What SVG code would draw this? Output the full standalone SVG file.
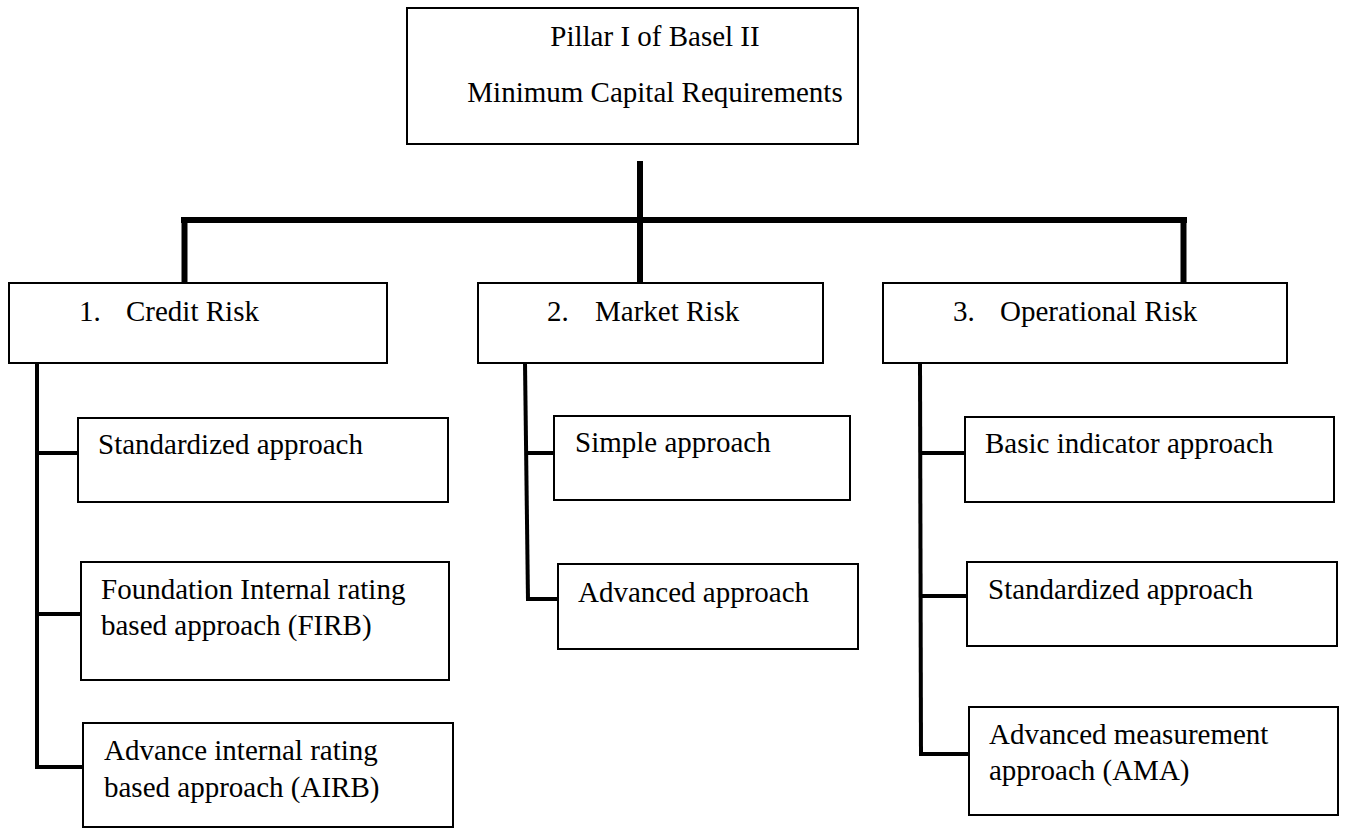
<svg xmlns="http://www.w3.org/2000/svg" width="1346" height="829" viewBox="0 0 1346 829">
<style>
.box{fill:#fff;stroke:#000;stroke-width:2}
.t{font-family:"Liberation Serif","Times New Roman",serif;font-size:29px;fill:#000}
.thick{stroke:#000;stroke-width:6;fill:none}
.thin{stroke:#000;stroke-width:4;fill:none}
</style>
<rect width="1346" height="829" fill="#fff"/>
<g id="connectors">
<line class="thick" x1="640" y1="161" x2="640" y2="283"/>
<line class="thick" x1="181" y1="220" x2="1187" y2="220"/>
<line class="thick" x1="184.5" y1="217" x2="184.5" y2="283"/>
<line class="thick" x1="1183.5" y1="217" x2="1183.5" y2="283"/>
<polyline class="thin" points="37,363 37,768"/>
<line class="thin" x1="37" y1="453" x2="78" y2="453"/>
<line class="thin" x1="37" y1="614" x2="81" y2="614"/>
<line class="thin" x1="35" y1="767" x2="83" y2="767"/>
<line class="thin" x1="525" y1="363" x2="528" y2="601"/>
<line class="thin" x1="526" y1="453" x2="558" y2="453"/>
<line class="thin" x1="526" y1="599" x2="558" y2="599"/>
<line class="thin" x1="920" y1="363" x2="921" y2="756"/>
<line class="thin" x1="920" y1="453" x2="965" y2="453"/>
<line class="thin" x1="920" y1="596" x2="967" y2="596"/>
<line class="thin" x1="919" y1="754" x2="969" y2="754"/>
</g>
<g id="root">
<rect class="box" x="407" y="8" width="451" height="136"/>
<text class="t" x="655" y="46" text-anchor="middle">Pillar I of Basel II</text>
<text class="t" x="655" y="102" text-anchor="middle">Minimum Capital Requirements</text>
</g>
<g id="credit">
<rect class="box" x="9" y="283" width="378" height="80"/>
<text class="t" x="79" y="321">1.</text>
<text class="t" x="126" y="321">Credit Risk</text>
</g>
<g id="market">
<rect class="box" x="478" y="283" width="345" height="80"/>
<text class="t" x="547" y="321">2.</text>
<text class="t" x="595" y="321">Market Risk</text>
</g>
<g id="operational">
<rect class="box" x="883" y="283" width="404" height="80"/>
<text class="t" x="953" y="321">3.</text>
<text class="t" x="1000" y="321">Operational Risk</text>
</g>
<g id="credit-std">
<rect class="box" x="78" y="418" width="370" height="84"/>
<text class="t" x="98" y="454">Standardized approach</text>
</g>
<g id="credit-firb">
<rect class="box" x="81" y="562" width="368" height="118"/>
<text class="t" x="101" y="599">Foundation Internal rating</text>
<text class="t" x="101" y="635">based approach (FIRB)</text>
</g>
<g id="credit-airb">
<rect class="box" x="83" y="723" width="370" height="104"/>
<text class="t" x="104" y="760">Advance internal rating</text>
<text class="t" x="104" y="797">based approach (AIRB)</text>
</g>
<g id="market-simple">
<rect class="box" x="554" y="416" width="296" height="84"/>
<text class="t" x="575" y="452">Simple approach</text>
</g>
<g id="market-adv">
<rect class="box" x="558" y="564" width="300" height="85"/>
<text class="t" x="578" y="602">Advanced approach</text>
</g>
<g id="op-basic">
<rect class="box" x="965" y="417" width="369" height="85"/>
<text class="t" x="985" y="453">Basic indicator approach</text>
</g>
<g id="op-std">
<rect class="box" x="967" y="562" width="370" height="84"/>
<text class="t" x="988" y="599">Standardized approach</text>
</g>
<g id="op-ama">
<rect class="box" x="969" y="707" width="369" height="108"/>
<text class="t" x="989" y="744">Advanced measurement</text>
<text class="t" x="989" y="780">approach (AMA)</text>
</g>
</svg>
